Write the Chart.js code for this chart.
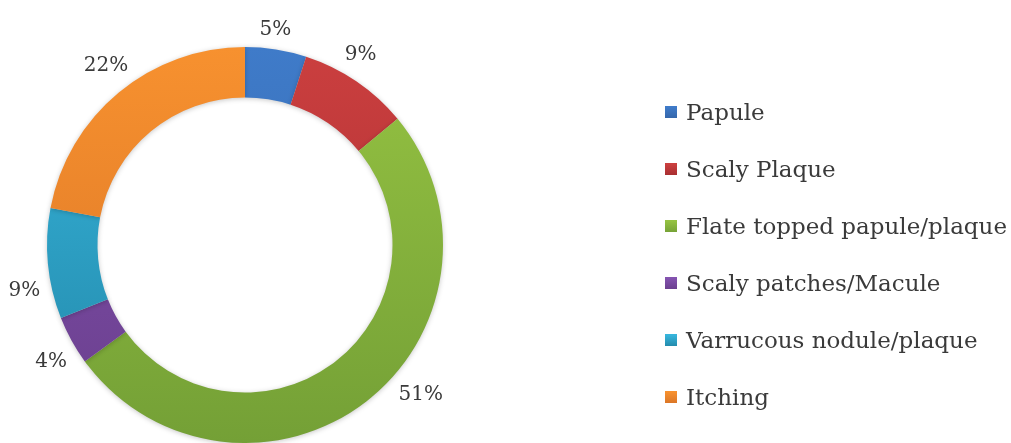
<!DOCTYPE html>
<html>
<head>
<meta charset="utf-8">
<title>Lesion types</title>
<script src="https://cdn.jsdelivr.net/npm/chart.js@4.4.1/dist/chart.umd.min.js"></script>
<style>
  html, body { margin: 0; padding: 0; background: #ffffff; }
  #lesionChart { display: block; }
</style>
</head>
<body>
<canvas id="lesionChart" width="1011" height="443"></canvas>
<script>
// data
var categories = [
  "Papule",
  "Scaly Plaque",
  "Flate topped papule/plaque",
  "Scaly patches/Macule",
  "Varrucous nodule/plaque",
  "Itching"
];
var shares = [5, 9, 51, 4, 9, 22];
var shareLabels = ["5%", "9%", "51%", "4%", "9%", "22%"];

// slice colours, lighter at the top and darker at the bottom (office style shading)
var topColors = ["#3f7bc9", "#cb3f3f", "#95c242", "#8453b0", "#37b5dc", "#f7912f"];
var bottomColors = ["#3465a8", "#a52d30", "#74a036", "#693e8c", "#2287a8", "#d97426"];

var serif = "'DejaVu Serif', 'Liberation Serif', serif";

function sliceFill(context) {
  var i = context.dataIndex;
  var area = context.chart.chartArea;
  if (!area) return topColors[i];
  var g = context.chart.ctx.createLinearGradient(0, area.top, 0, area.bottom);
  g.addColorStop(0, topColors[i]);
  g.addColorStop(1, bottomColors[i]);
  return g;
}

// soft shadow round the ring
var ringShadow = {
  id: "ringShadow",
  beforeDatasetDraw: function (chart) {
    var ctx = chart.ctx;
    ctx.save();
    ctx.shadowColor = "rgba(0, 0, 0, 0.22)";
    ctx.shadowBlur = 5;
    ctx.shadowOffsetY = 1;
  },
  afterDatasetDraw: function (chart) {
    chart.ctx.restore();
  }
};

// percentage labels just outside each slice (a few were dragged a bit in the original)
var outsideLabels = {
  id: "outsideLabels",
  afterDatasetsDraw: function (chart, args, opts) {
    var ctx = chart.ctx;
    var meta = chart.getDatasetMeta(0);
    var nudge = opts.nudgeDeg || [];
    ctx.save();
    ctx.font = "20px " + serif;
    ctx.fillStyle = "#3a3a3a";
    ctx.textAlign = "center";
    ctx.textBaseline = "middle";
    meta.data.forEach(function (arc, i) {
      var p = arc.getProps(["x", "y", "startAngle", "endAngle", "outerRadius"], true);
      var mid = (p.startAngle + p.endAngle) / 2 + (nudge[i] || 0) * Math.PI / 180;
      var cx = Math.cos(mid), cy = Math.sin(mid);
      var w = ctx.measureText(shareLabels[i]).width;
      var r = p.outerRadius + 10 + Math.abs(cx) * w / 2 + Math.abs(cy) * 8;
      ctx.fillText(shareLabels[i], p.x + cx * r, p.y + cy * r + 1);
    });
    ctx.restore();
  }
};

// legend on the right: square marker + serif text
var sideLegend = {
  id: "sideLegend",
  afterDraw: function (chart) {
    var ctx = chart.ctx;
    var x0 = 665, y0 = 113, step = 57, box = 12;
    ctx.save();
    ctx.font = "23px " + serif;
    ctx.textAlign = "left";
    ctx.textBaseline = "middle";
    chart.data.labels.forEach(function (label, i) {
      var y = y0 + i * step;
      var g = ctx.createLinearGradient(0, y - box / 2, 0, y + box / 2);
      g.addColorStop(0, topColors[i]);
      g.addColorStop(1, bottomColors[i]);
      ctx.fillStyle = g;
      ctx.fillRect(x0, y - box / 2 - 1, box, box);
      ctx.fillStyle = "#3a3a3a";
      ctx.fillText(label, x0 + box + 9, y + 1);
    });
    ctx.restore();
  }
};

var ctx = document.getElementById("lesionChart").getContext("2d");
var lesionChart = new Chart(ctx, {
  type: "doughnut",
  data: {
    labels: categories,
    datasets: [
      {
        data: shares,
        backgroundColor: sliceFill,
        borderWidth: 0
      }
    ]
  },
  options: {
    responsive: false,
    animation: false,
    cutout: "74.5%",
    layout: {
      padding: { top: 47, left: 47, right: 568, bottom: 0 }
    },
    plugins: {
      legend: { display: false },
      tooltip: { enabled: false },
      outsideLabels: { nudgeDeg: [-1, -3, -12, -2, -6, 2] }
    }
  },
  plugins: [ringShadow, outsideLabels, sideLegend]
});
</script>
</body>
</html>
